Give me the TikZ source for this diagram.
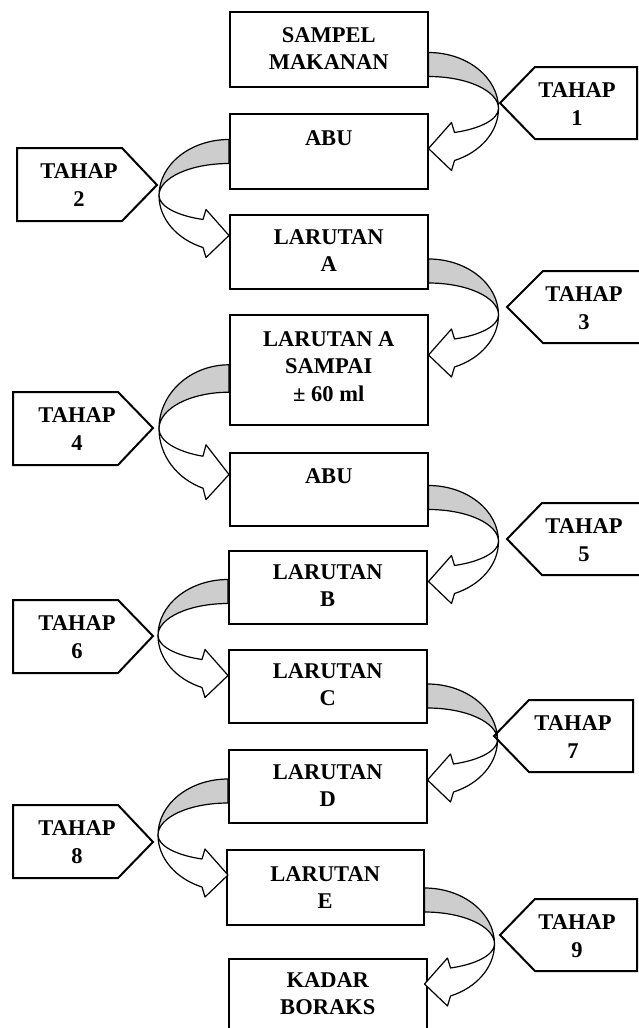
\documentclass[tikz,border=0pt]{standalone}
\usepackage{fontspec}
\setmainfont{Liberation Serif}
\usetikzlibrary{calc}
\tikzset{
  curvarrow/.pic={
    \filldraw[arrowline, fill=bandgray] (0,-12) .. controls (38.66,-12) and (70,13.07) .. (70,44)
        .. controls (70,26.33) and (38.66,12) .. (0,12) -- cycle;
    \filldraw[arrowline, fill=white] (70,44) .. controls (70,66.9) and (52.58,87.49) .. (26,96)
        -- (23,106) -- (0,84) -- (23,58) -- (26,68)
        .. controls (52.58,64.07) and (70,54.57) .. (70,44) -- cycle;
  }
}
\definecolor{bandgray}{RGB}{205,205,205}
\begin{document}
\begin{tikzpicture}[x=1pt,y=-1pt,
  box/.style={draw, line width=1.5pt, fill=white, minimum width=198pt, anchor=north west, inner sep=0pt},
  lbl/.style={font=\bfseries\fontsize{22.5}{27.5}\selectfont, align=center, anchor=north, inner sep=0pt},
  tlbl/.style={font=\bfseries\fontsize{22.5}{27.5}\selectfont, align=center, anchor=center, inner sep=0pt},
  tahapshape/.style={draw, line width=2pt, fill=white, line join=miter},
  arrowline/.style={draw=black, line width=1.2pt, line join=round},
]
\clip (0,0) rectangle (639,1028);
\fill[white] (0,0) rectangle (639,1028);

% boxes
\node[box, minimum height=75pt] (b1) at (229,11) {};
\node[box, minimum height=75pt] (b2) at (229,113) {};
\node[box, minimum height=74pt] (b3) at (229,214) {};
\node[box, minimum height=110pt] (b4) at (229,314) {};
\node[box, minimum height=73pt] (b5) at (229,452) {};
\node[box, minimum height=73pt] (b6) at (228,550) {};
\node[box, minimum height=73pt] (b7) at (228,649) {};
\node[box, minimum height=73pt] (b8) at (228,749) {};
\node[box, minimum height=75pt, minimum width=197pt] (b9) at (226,849) {};
\node[box, minimum height=80pt] (b10) at (228,958) {};

\node[lbl] (l1) at ($(b1.north)+(0,16)$) {SAMPEL\\MAKANAN};
\node[lbl] (l2) at ($(b2.north)+(0,17)$) {ABU};
\node[lbl] (l3) at ($(b3.north)+(0,15)$) {LARUTAN\\A};
\node[lbl] (l4) at ($(b4.north)+(0,17)$) {LARUTAN A\\SAMPAI\\± 60 ml};
\node[lbl] (l5) at ($(b5.north)+(0,16)$) {ABU};
\node[lbl] (l6) at ($(b6.north)+(0,14)$) {LARUTAN\\B};
\node[lbl] (l7) at ($(b7.north)+(0,14)$) {LARUTAN\\C};
\node[lbl] (l8) at ($(b8.north)+(0,15)$) {LARUTAN\\D};
\node[lbl] (l9) at ($(b9.north)+(0,17)$) {LARUTAN\\E};
\node[lbl] (l10) at ($(b10.north)+(0,14)$) {KADAR\\BORAKS};

% TAHAP shapes (right side, pointing left)
\path[tahapshape] (500,103) -- (535,67) -- (637,67) -- (637,139) -- (535,139) -- cycle;
\path[tahapshape] (507,307) -- (543,271) -- (660,271) -- (660,343) -- (543,343) -- cycle;
\path[tahapshape] (507,539) -- (542,503) -- (660,503) -- (660,575) -- (542,575) -- cycle;
\path[tahapshape] (494,736) -- (529,700) -- (633,700) -- (633,772) -- (529,772) -- cycle;
\path[tahapshape] (500,935) -- (535,899) -- (637,899) -- (637,971) -- (535,971) -- cycle;
% TAHAP shapes (left side, pointing right)
\path[tahapshape] (17,148) -- (122,148) -- (157,185) -- (122,221) -- (17,221) -- cycle;
\path[tahapshape] (13,392) -- (118,392) -- (153,428) -- (118,465) -- (13,465) -- cycle;
\path[tahapshape] (13,600) -- (118,600) -- (153,636) -- (118,673) -- (13,673) -- cycle;
\path[tahapshape] (13,805) -- (118,805) -- (153,842) -- (118,878) -- (13,878) -- cycle;

\node[tlbl] (t1) at (577,104) {TAHAP\\1};
\node[tlbl] (t2) at (79,185) {TAHAP\\2};
\node[tlbl] (t3) at (584,308) {TAHAP\\3};
\node[tlbl] (t4) at (77,429) {TAHAP\\4};
\node[tlbl] (t5) at (584,540) {TAHAP\\5};
\node[tlbl] (t6) at (77,637) {TAHAP\\6};
\node[tlbl] (t7) at (573,737) {TAHAP\\7};
\node[tlbl] (t8) at (77,842) {TAHAP\\8};
\node[tlbl] (t9) at (577,936) {TAHAP\\9};

% curved arrows
\pic (a1) at ($(b1.north east)+(0,53.5)$) {curvarrow};
\pic[xscale=-1] (a2) at ($(b2.north west)+(0,38.5)$) {curvarrow};
\pic (a3) at ($(b3.north east)+(0,57)$) {curvarrow};
\pic[xscale=-1, yscale=1.143] (a4) at ($(b4.north west)+(0,64.5)$) {curvarrow};
\pic (a5) at ($(b5.north east)+(0,45.5)$) {curvarrow};
\pic[xscale=-1] (a6) at ($(b6.north west)+(0,41.5)$) {curvarrow};
\pic (a7) at ($(b7.north east)+(0,47)$) {curvarrow};
\pic[xscale=-1] (a8) at ($(b8.north west)+(0,42)$) {curvarrow};
\pic (a9) at ($(b9.north east)+(0,51)$) {curvarrow};
\end{tikzpicture}
\end{document}
